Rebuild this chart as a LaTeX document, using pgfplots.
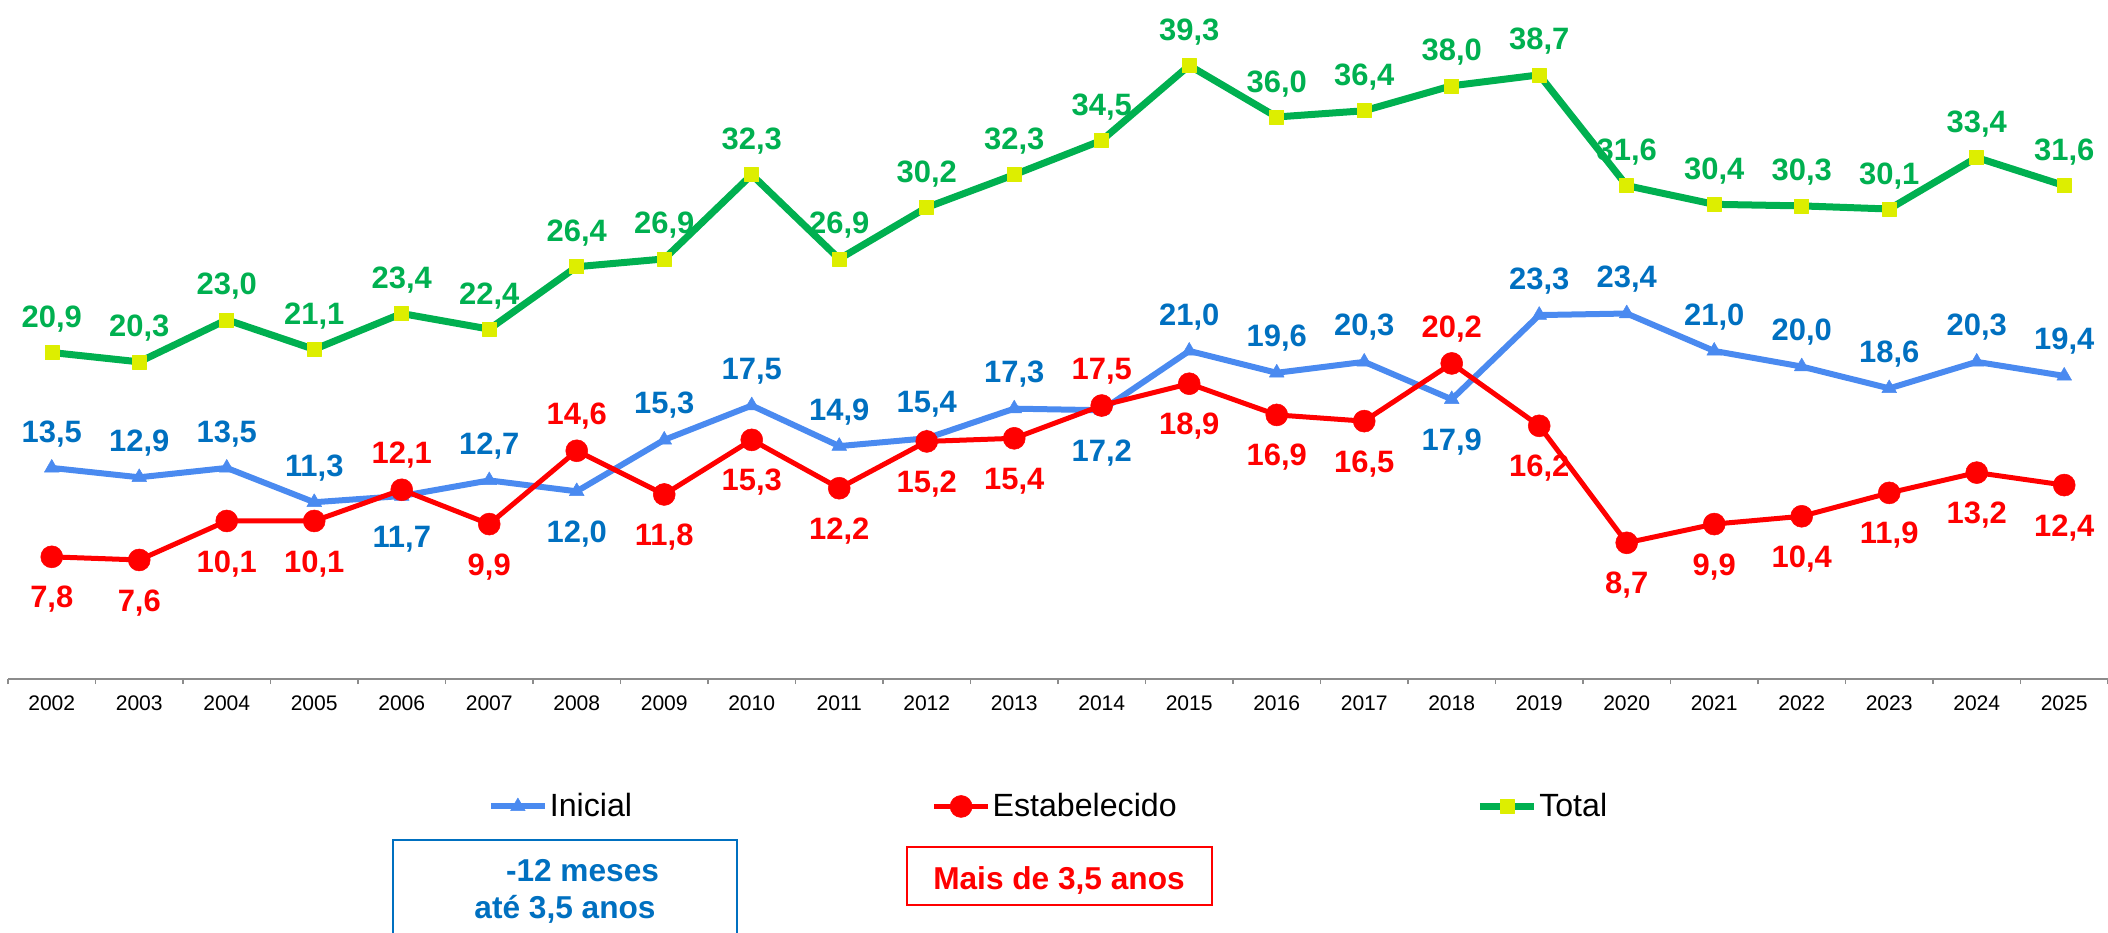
\documentclass[border=0pt]{standalone}
\usepackage{fontspec}
\setmainfont{Liberation Sans}
\usepackage{pgfplots}
\pgfplotsset{compat=1.18}
\usepackage{pgfplotstable}

\definecolor{iniblue}{HTML}{4A8AF0}
\definecolor{labblue}{HTML}{0070C0}
\definecolor{estred}{HTML}{FF0000}
\definecolor{totgreen}{HTML}{00B050}
\definecolor{totyellow}{HTML}{DDEE00}
\definecolor{axgray}{HTML}{8C8C8C}

% pos = vertical offset of the value label, in mm
\pgfplotstableread{
year val pos
2002 13.5 7.4
2003 12.9 7.4
2004 13.5 7.4
2005 11.3 7.4
2006 11.7 -8.0
2007 12.7 7.4
2008 12.0 -8.0
2009 15.3 7.4
2010 17.5 7.4
2011 14.9 7.4
2012 15.4 7.4
2013 17.3 7.4
2014 17.2 -8.0
2015 21.0 7.4
2016 19.6 7.4
2017 20.3 7.4
2018 17.9 -8.0
2019 23.3 7.4
2020 23.4 7.4
2021 21.0 7.4
2022 20.0 7.4
2023 18.6 7.4
2024 20.3 7.4
2025 19.4 7.4
}\tabinicial

\pgfplotstableread{
year val pos
2002 7.8 -8.0
2003 7.6 -8.0
2004 10.1 -8.0
2005 10.1 -8.0
2006 12.1 7.4
2007 9.9 -8.0
2008 14.6 7.4
2009 11.8 -8.0
2010 15.3 -8.0
2011 12.2 -8.0
2012 15.2 -8.0
2013 15.4 -8.0
2014 17.5 7.4
2015 18.9 -8.0
2016 16.9 -8.0
2017 16.5 -8.0
2018 20.2 7.4
2019 16.2 -8.0
2020 8.7 -8.0
2021 9.9 -8.0
2022 10.4 -8.0
2023 11.9 -8.0
2024 13.2 -8.0
2025 12.4 -8.0
}\tabestab

\pgfplotstableread{
year val pos
2002 20.9 7.2
2003 20.3 7.2
2004 23.0 7.2
2005 21.1 7.2
2006 23.4 7.2
2007 22.4 7.2
2008 26.4 7.2
2009 26.9 7.2
2010 32.3 7.2
2011 26.9 7.2
2012 30.2 7.2
2013 32.3 7.2
2014 34.5 7.2
2015 39.3 7.2
2016 36.0 7.2
2017 36.4 7.2
2018 38.0 7.2
2019 38.7 7.2
2020 31.6 7.2
2021 30.4 7.2
2022 30.3 7.2
2023 30.1 7.2
2024 33.4 7.2
2025 31.6 7.2
}\tabtotal

\pgfplotsset{
  lab/.style={
    point meta=explicit symbolic,
    visualization depends on={y \as \myy},
    nodes near coords={\pgfmathprintnumber[fixed,fixed zerofill,precision=1,use comma,assume math mode=true]{\myy}},
    every node near coord/.append style={anchor=center, inner sep=0pt,
      font=\fontsize{17.6}{20}\selectfont\bfseries, text=#1,
      text height=12.6pt, text depth=0pt, yshift=\pgfplotspointmeta*1mm}
  },
  inistyle/.style={iniblue, line width=1.2mm, line join=round, mark=triangle*, mark size=1.7mm,
    mark options={solid, fill=iniblue, draw=iniblue, line width=0.1mm}},
  eststyle/.style={estred, line width=1mm, line join=round, mark=*, mark size=2.2mm,
    mark options={solid, fill=estred, draw=estred, line width=0.1mm}},
  totstyle/.style={totgreen, line width=1.4mm, line join=round, mark=square*, mark size=1.4mm,
    mark options={solid, fill=totyellow, draw=totyellow, line width=0.1mm}},
}

\begin{document}
\begin{tikzpicture}[x=1mm,y=1mm]
\path[use as bounding box] (0,0) rectangle (421.6,186.4);
\begin{axis}[
  at={(1.6mm,50.7mm)}, anchor=south west,
  scale only axis, width=420mm, height=135.7mm,
  xmin=2001.5, xmax=2025.5, ymin=0, ymax=43.5,
  clip=false,
  axis x line*=bottom, axis y line=none,
  xtick={2002,2003,...,2025},
  minor xtick={2001.5,2002.5,...,2025.5},
  major tick length=0pt, minor tick length=1.1mm,
  tick align=outside,
  tick style={axgray, line width=0.35mm},
  x axis line style={axgray, line width=0.4mm},
  xticklabel style={font=\fontsize{12}{14}\selectfont,
    /pgf/number format/1000 sep=, /pgf/number format/assume math mode=true,
    inner sep=0pt, anchor=north, yshift=-3.3mm},
  legend columns=3,
  legend style={at={(axis description cs:0.4955,-0.1886)}, anchor=center,
    draw=none, fill=none, font=\fontsize{18.3}{21}\selectfont,
    nodes={inner xsep=0.4mm, inner ysep=0.5mm},
    /tikz/every even column/.append style={column sep=59.5mm}},
  legend image code/.code={\draw[#1, mark repeat=2, mark phase=2] plot coordinates {(0mm,0mm) (5.4mm,0mm) (10.8mm,0mm)};},
]
\addplot[inistyle, lab=labblue, forget plot] table[x=year, y=val, meta=pos]{\tabinicial};
\addplot[eststyle, lab=estred, forget plot] table[x=year, y=val, meta=pos]{\tabestab};
\addplot[totstyle, lab=totgreen, forget plot] table[x=year, y=val, meta=pos]{\tabtotal};
\addlegendimage{inistyle}
\addlegendentry{Inicial}
\addlegendimage{eststyle}
\addlegendentry{Estabelecido}
\addlegendimage{totstyle}
\addlegendentry{Total}
\end{axis}
\draw[labblue, line width=0.4mm] (78.6,-5) -- (78.6,18.4) -- (147.4,18.4) -- (147.4,-5);
\node[anchor=base, labblue, inner sep=0pt, font=\fontsize{18}{21}\selectfont\bfseries] at (116.5,10.1) {-12 meses};
\node[anchor=base, labblue, inner sep=0pt, font=\fontsize{18}{21}\selectfont\bfseries] at (113,2.8) {até 3,5 anos};
\draw[estred, line width=0.4mm] (181.4,5.4) rectangle (242.4,17);
\node[anchor=base, estred, inner sep=0pt, font=\fontsize{18}{21}\selectfont\bfseries] at (211.8,8.6) {Mais de 3,5 anos};
\end{tikzpicture}
\end{document}
